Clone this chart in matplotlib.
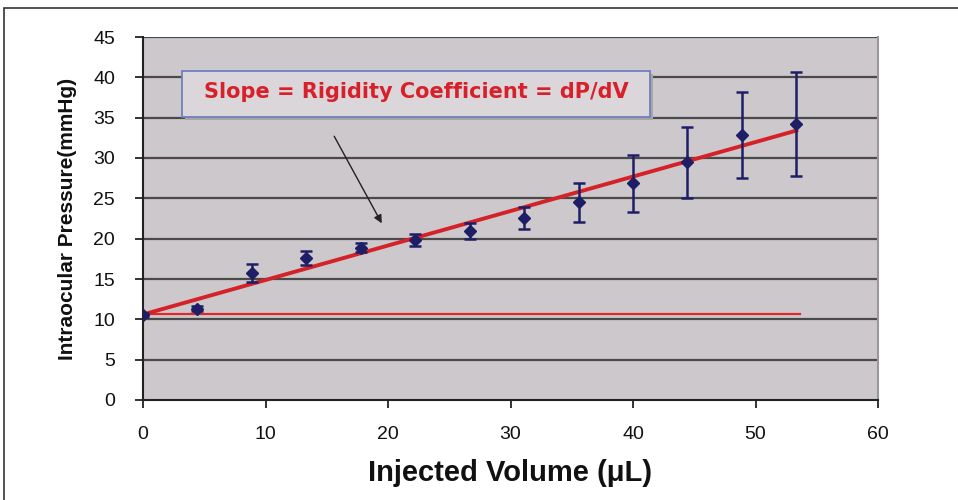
import matplotlib
matplotlib.use("Agg")
import matplotlib.pyplot as plt
from matplotlib.patches import Rectangle, FancyBboxPatch
import numpy as np

volume = [0, 4.44, 8.89, 13.33, 17.78, 22.22, 26.67, 31.11, 35.56, 40.0, 44.44, 48.89, 53.33]
pressure = [10.55, 11.3, 15.7, 17.6, 18.9, 19.85, 20.9, 22.6, 24.5, 26.85, 29.5, 32.85, 34.2]
err = [0.25, 0.3, 1.1, 0.9, 0.6, 0.75, 1.0, 1.35, 2.4, 3.55, 4.4, 5.3, 6.4]
fit_x = [0, 53.33]
fit_y = [10.6, 33.4]
baseline = 10.6
x_ticks = [0, 10, 20, 30, 40, 50, 60]
y_ticks = [0, 5, 10, 15, 20, 25, 30, 35, 40, 45]
annotation = "Slope = Rigidity Coefficient = dP/dV"

narrow = ['Liberation Sans Narrow', 'Liberation Sans', 'DejaVu Sans']

fig = plt.figure(figsize=(9.58, 5.0), dpi=100)
fig.patch.set_facecolor('white')
# outer frame
fig.patches.append(Rectangle((4/958, -0.1), 1.2, (500-8)/500 + 0.1, transform=fig.transFigure,
                             fill=False, edgecolor='#333333', linewidth=1.2))

ax = fig.add_axes([143/958, 100/500, (878-143)/958, (400-37)/500])
ax.set_facecolor('#CCC8CC')
ax.set_xlim(0, 60)
ax.set_ylim(0, 45)

for y in y_ticks[1:]:
    ax.axhline(y, color='#4a4a4a', linewidth=1.6, zorder=1)

ax.plot([0, 53.6], [baseline, baseline], color='#E02828', linewidth=1.6, zorder=2)
ax.plot(fit_x, fit_y, color='#D42228', linewidth=2.8, zorder=3)

ax.errorbar(volume, pressure, yerr=err, fmt='D', color='#1E1E66', markersize=6.5,
            ecolor='#1E1E66', elinewidth=1.8, capsize=4, capthick=1.8, zorder=4)

ax.set_xticks(x_ticks)
ax.set_yticks(y_ticks)
ax.spines['top'].set_visible(False)
ax.spines['right'].set_color('#999999')
ax.spines['right'].set_linewidth(1.5)
ax.spines['left'].set_color('#222222')
ax.spines['left'].set_linewidth(1.5)
ax.spines['bottom'].set_color('#222222')
ax.spines['bottom'].set_linewidth(1.5)
ax.tick_params(axis='both', direction='out', length=6, width=1.3, color='#222222',
               labelsize=14, labelcolor='#111111')
ax.tick_params(axis='x', pad=13)
ax.tick_params(axis='y', pad=14)
for lab in ax.get_xticklabels() + ax.get_yticklabels():
    lab.set_fontfamily(narrow)

ax.set_xlabel("Injected Volume (μL)", fontsize=21, fontweight='bold', family=narrow,
              color='#111111', labelpad=11)
ax.set_ylabel("Intraocular Pressure(mmHg)", fontsize=15, fontweight='bold',
              family=['Liberation Sans', 'DejaVu Sans'], color='#111111', labelpad=12)

# annotation box
box = FancyBboxPatch((182/958, (500-117)/500), (650-182)/958, 46/500, boxstyle='square,pad=0',
                     transform=fig.transFigure, facecolor='#DAD6DA', edgecolor='#7080C0',
                     linewidth=1.3, zorder=5)
shadow = FancyBboxPatch((185/958, (500-120)/500), (650-182)/958, 46/500, boxstyle='square,pad=0',
                        transform=fig.transFigure, facecolor='#A8A4A8', edgecolor='none', zorder=4.5)
fig.patches.append(shadow)
fig.patches.append(box)
fig.text(416/958, (500-92)/500, annotation, ha='center', va='center', color='#D8202A',
         fontsize=15, fontweight='bold', family=['DejaVu Sans'], zorder=6)

ax.annotate('', xy=(19.6, 21.6), xytext=(15.5, 33.0),
            arrowprops=dict(arrowstyle='-|>', color='#222222', lw=1.0, mutation_scale=12),
            zorder=5)

fig.savefig('out.png', dpi=100)
